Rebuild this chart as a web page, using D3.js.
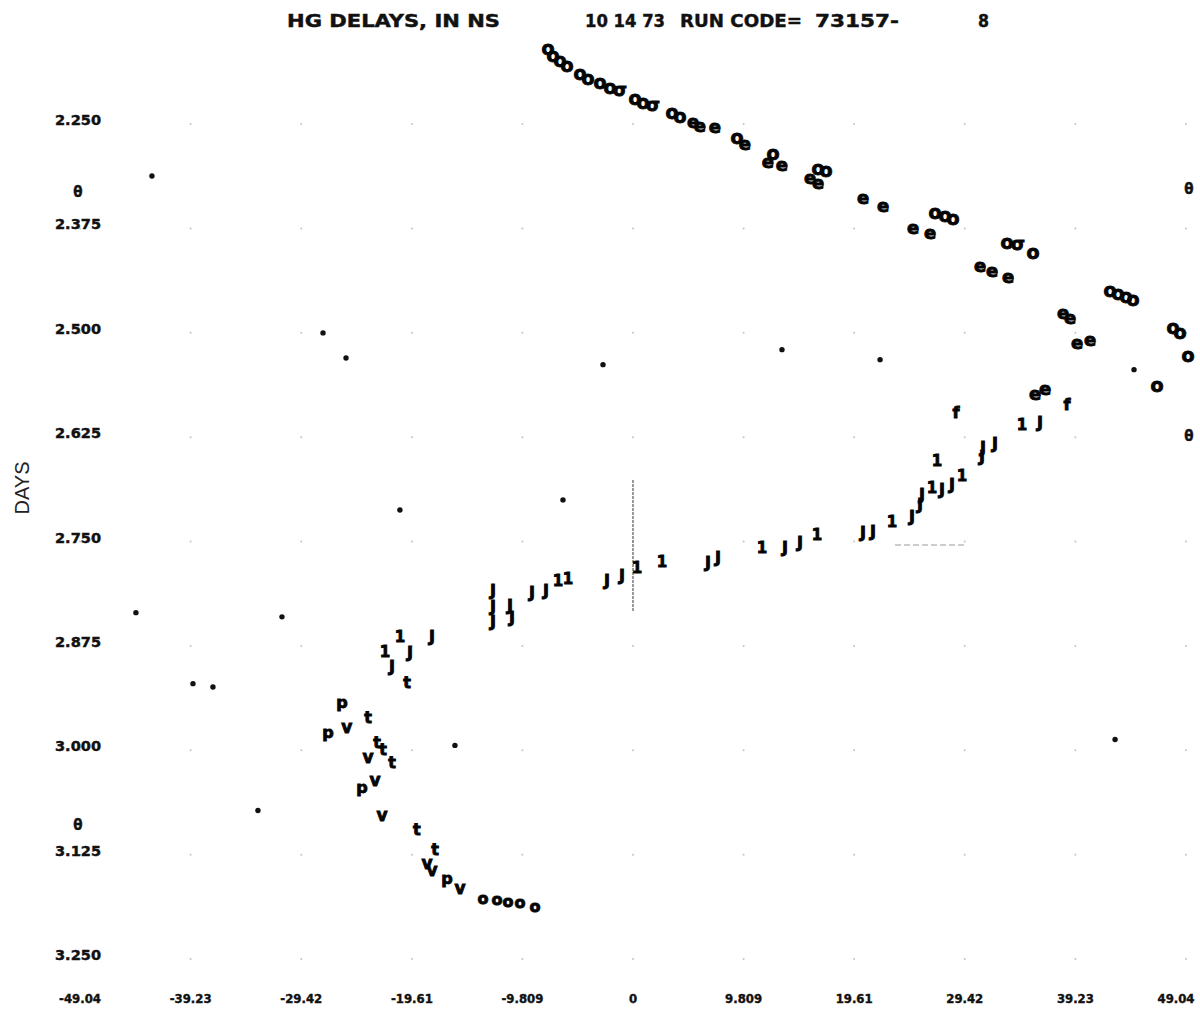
<!DOCTYPE html>
<html>
<head>
<meta charset="utf-8">
<script src="https://cdn.jsdelivr.net/npm/d3@7"></script>
<style>
  body { margin: 0; background: #fff; }
  svg { display: block; }
  .lbl { font-family: "DejaVu Sans Condensed", "DejaVu Sans", sans-serif; font-weight: bold; fill: #111; stroke: #111; stroke-width: 0.4; }
  .mark { font-family: "DejaVu Sans", sans-serif; font-weight: bold; fill: #050505; stroke: #050505; stroke-width: 0.9; }
</style>
</head>
<body>
<div id="chart"></div>
<script>
// axis ticks as printed on the plot
const xTicks = [-49.04, -39.23, -29.42, -19.61, -9.809, 0, 9.809, 19.61, 29.42, 39.23, 49.04];
const xTickLabels = ["-49.04", "-39.23", "-29.42", "-19.61", "-9.809", "0", "9.809", "19.61", "29.42", "39.23", "49.04"];
const yTicks = [2.25, 2.375, 2.5, 2.625, 2.75, 2.875, 3.0, 3.125, 3.25];
const yTickLabels = ["2.250", "2.375", "2.500", "2.625", "2.750", "2.875", "3.000", "3.125", "3.250"];

// [delay ns, days]
const seriesO = [[-7.54, 2.164], [-7.10, 2.172], [-6.47, 2.178], [-5.85, 2.184], [-4.70, 2.194], [-3.99, 2.200],
  [-2.93, 2.205], [-2.04, 2.210], [0.18, 2.224], [0.89, 2.228], [3.46, 2.240], [4.17, 2.245], [9.22, 2.270],
  [12.42, 2.290], [16.41, 2.307], [17.12, 2.310], [26.78, 2.360], [27.67, 2.364], [28.38, 2.367],
  [33.17, 2.396], [35.48, 2.408], [42.31, 2.454], [43.02, 2.457], [43.73, 2.461], [44.35, 2.464],
  [47.89, 2.498], [48.51, 2.504], [49.22, 2.531], [46.47, 2.567]];
const seriesSigma = [[-1.15, 2.214], [1.77, 2.231], [34.15, 2.398]];
const seriesE = [[5.32, 2.252], [5.94, 2.256], [7.27, 2.258], [9.93, 2.278], [11.97, 2.300], [13.21, 2.303],
  [15.70, 2.319], [16.41, 2.325], [20.40, 2.343], [22.17, 2.352], [24.83, 2.379], [26.34, 2.385],
  [30.78, 2.424], [31.84, 2.430], [33.26, 2.438], [38.14, 2.480], [38.76, 2.486], [39.38, 2.516],
  [40.53, 2.513], [35.65, 2.577], [36.54, 2.571]];
const seriesJ = [[-12.42, 2.813], [-12.42, 2.833], [-12.42, 2.851], [-10.91, 2.831], [-10.73, 2.846],
  [-8.96, 2.816], [-7.72, 2.813], [-2.31, 2.801], [-0.98, 2.796], [6.65, 2.780], [7.54, 2.774],
  [13.48, 2.762], [14.81, 2.756], [20.40, 2.744], [21.29, 2.743], [24.75, 2.725], [25.45, 2.711],
  [25.63, 2.699], [27.41, 2.693], [28.29, 2.686], [30.95, 2.653], [31.04, 2.642], [32.11, 2.637],
  [36.10, 2.612], [-17.83, 2.869], [-21.37, 2.905], [-19.78, 2.888]];
const seriesOne = [[-6.65, 2.802], [-5.76, 2.800], [0.35, 2.786], [2.57, 2.779], [11.44, 2.762], [16.32, 2.747],
  [22.97, 2.731], [26.52, 2.691], [29.18, 2.676], [26.96, 2.658], [34.50, 2.615], [-22.00, 2.887], [-20.67, 2.869]];
const seriesM = [[38.49, 2.591], [28.65, 2.600]];
const seriesT = [[-20.04, 2.924], [-23.50, 2.965], [-22.70, 2.995], [-22.17, 3.004], [-21.37, 3.020],
  [-19.16, 3.100], [-17.56, 3.124]];
const seriesV = [[-25.37, 2.977], [-23.50, 3.013], [-22.88, 3.040], [-22.26, 3.082], [-18.27, 3.140],
  [-17.83, 3.148], [-15.34, 3.170]];
const seriesP = [[-25.81, 2.948], [-27.05, 2.984], [-24.04, 3.049], [-16.50, 3.158]];
const seriesA = [[-13.30, 3.182], [-12.06, 3.184], [-11.09, 3.186], [-10.02, 3.187], [-8.69, 3.192]];
const dots = [[-42.66, 2.317], [-27.49, 2.505], [-25.45, 2.535], [-2.66, 2.543], [13.21, 2.525], [21.91, 2.537],
  [44.43, 2.549], [-6.21, 2.705], [-20.67, 2.717], [-44.08, 2.840], [-31.13, 2.845], [-39.02, 2.925],
  [-37.25, 2.929], [-15.79, 2.999], [42.75, 2.992], [-33.26, 3.077]];
// off-scale markers printed in the margins
const thetaLeft = [2.336, 3.094];
const thetaRight = [2.333, 2.628];

const w = 1200;
const h = 1014;

const x = d3.scaleLinear().domain([-49.04, 49.04]).range([80, 1186]);
const y = d3.scaleLinear().domain([2.25, 3.25]).range([120, 955]);

const svg = d3.select("#chart").append("svg")
  .attr("width", w)
  .attr("height", h);

// faint grid dots
const grid = [];
xTicks.forEach(a => yTicks.forEach(b => grid.push([a, b])));
svg.append("g").selectAll("circle")
  .data(grid)
  .enter().append("circle")
  .attr("cx", d => x(d[0]))
  .attr("cy", d => y(d[1]) + 4)
  .attr("r", 1)
  .attr("fill", "#c4c4c4");

// thin cross-hair traces
svg.append("line")
  .attr("x1", x(0)).attr("x2", x(0))
  .attr("y1", y(2.681)).attr("y2", y(2.839))
  .attr("stroke", "#666").attr("stroke-width", 1.3)
  .attr("stroke-dasharray", "3,1");
svg.append("line")
  .attr("x1", x(23.24)).attr("x2", x(29.45))
  .attr("y1", y(2.759)).attr("y2", y(2.759))
  .attr("stroke", "#999").attr("stroke-width", 1.2)
  .attr("stroke-dasharray", "6,3");

// title
const title = [
  { t: "HG DELAYS, IN NS", x: 287, len: 213 },
  { t: "10 14 73", x: 585, len: 80 },
  { t: "RUN CODE=", x: 680, len: 122 },
  { t: "73157-", x: 815, len: 84 },
  { t: "8", x: 978, len: 11 }
];
svg.append("g").selectAll("text")
  .data(title)
  .enter().append("text")
  .attr("class", "lbl")
  .attr("x", d => d.x)
  .attr("y", 27)
  .attr("font-size", 18)
  .attr("textLength", d => d.len)
  .attr("lengthAdjust", "spacingAndGlyphs")
  .text(d => d.t);

// y tick labels
svg.append("g").selectAll("text")
  .data(yTicks)
  .enter().append("text")
  .attr("class", "lbl")
  .attr("x", 78)
  .attr("y", d => y(d))
  .attr("text-anchor", "middle")
  .attr("dominant-baseline", "central")
  .attr("font-size", 14)
  .attr("textLength", 46)
  .attr("lengthAdjust", "spacingAndGlyphs")
  .text((d, i) => yTickLabels[i]);

// x tick labels
svg.append("g").selectAll("text")
  .data(xTicks)
  .enter().append("text")
  .attr("class", "lbl")
  .attr("x", d => Math.min(x(d), 1176))
  .attr("y", 998)
  .attr("text-anchor", "middle")
  .attr("dominant-baseline", "central")
  .attr("font-size", 13)
  .text((d, i) => xTickLabels[i]);

svg.append("text")
  .attr("transform", "translate(22,488) rotate(-90)")
  .attr("text-anchor", "middle")
  .attr("dominant-baseline", "central")
  .attr("font-family", "Liberation Sans, Arial, sans-serif")
  .attr("font-size", 20)
  .attr("fill", "#222")
  .text("DAYS");

const drawMarks = (data, sym, size) => {
  svg.append("g").selectAll("text")
    .data(data)
    .enter().append("text")
    .attr("class", "mark")
    .attr("x", d => x(d[0]))
    .attr("y", d => y(d[1]))
    .attr("text-anchor", "middle")
    .attr("dominant-baseline", "central")
    .attr("font-size", size)
    .text(sym);
};

drawMarks(seriesO, "o", 19);
drawMarks(seriesSigma, "σ", 18);
drawMarks(seriesE, "e", 18);
drawMarks(seriesJ, "J", 16);
drawMarks(seriesOne, "1", 15);
drawMarks(seriesM, "f", 16);
drawMarks(seriesT, "t", 16);
drawMarks(seriesV, "v", 17);
drawMarks(seriesP, "p", 16);
drawMarks(seriesA, "o", 16);

svg.append("g").selectAll("circle")
  .data(dots)
  .enter().append("circle")
  .attr("cx", d => x(d[0]))
  .attr("cy", d => y(d[1]))
  .attr("r", 2.7)
  .attr("fill", "#111");

// theta markers sit in the label column on the left and at the right edge
svg.append("g").selectAll("text")
  .data(thetaLeft)
  .enter().append("text")
  .attr("class", "lbl")
  .attr("x", 78)
  .attr("y", d => y(d))
  .attr("text-anchor", "middle")
  .attr("dominant-baseline", "central")
  .attr("font-size", 15)
  .text("θ");
svg.append("g").selectAll("text")
  .data(thetaRight)
  .enter().append("text")
  .attr("class", "lbl")
  .attr("x", 1189)
  .attr("y", d => y(d))
  .attr("text-anchor", "middle")
  .attr("dominant-baseline", "central")
  .attr("font-size", 15)
  .text("θ");
</script>
</body>
</html>
